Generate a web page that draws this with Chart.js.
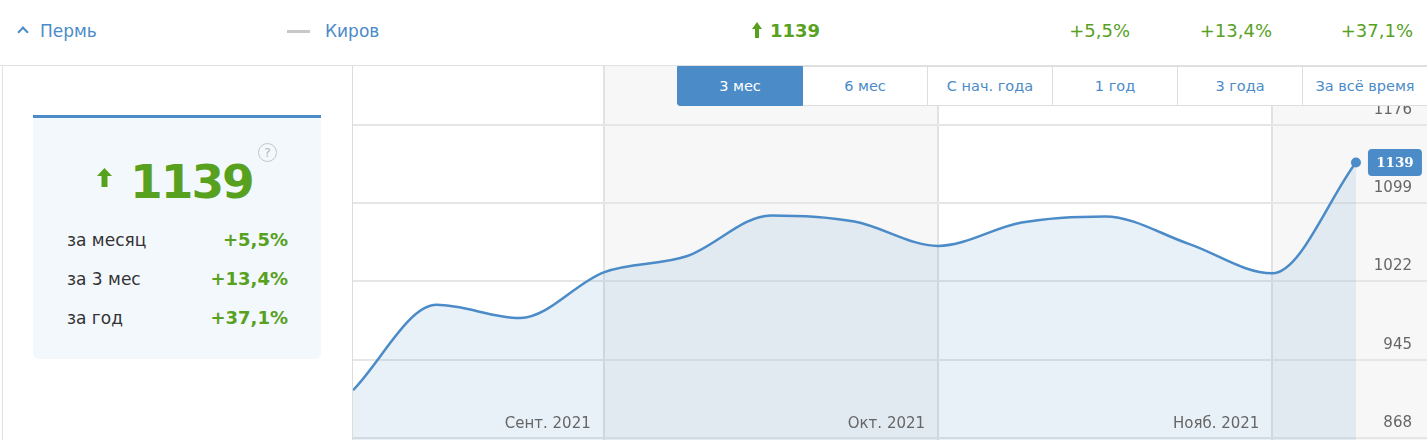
<!DOCTYPE html>
<html lang="ru">
<head>
<meta charset="utf-8">
<title>Пермь — индекс</title>
<script src="https://cdn.jsdelivr.net/npm/chart.js@4.4.1/dist/chart.umd.min.js"></script>
<style>
  body { margin: 0; width: 1427px; height: 440px; overflow: hidden; background: #fff;
         font-family: "DejaVu Sans", Verdana, sans-serif; position: relative; }
  .abs { position: absolute; white-space: nowrap; }
  #topbar { left: 0; top: 0; width: 1427px; height: 65px; border-bottom: 1px solid #e2e2e2; }
  .city { font-size: 17px; color: #4b8bc8; line-height: 20px; top: 21px; }
  .green { color: #58a11e; }
  .pct { font-size: 18px; line-height: 20px; top: 21px; text-align: right; }
  #caret { left: 19px; top: 28px; width: 6px; height: 6px; border-left: 2px solid #4b8bc8;
           border-top: 2px solid #4b8bc8; transform: rotate(45deg); }
  #dash { left: 287px; top: 30px; width: 23px; height: 3px; background: #c8c8c8; }
  #leftline { left: 2px; top: 66px; width: 1px; height: 374px; background: #e2e2e2; }
  #card { left: 33px; top: 115px; width: 288px; height: 241px; background: #f3f8fd;
          border-top: 3px solid #4b8bc8; border-radius: 0 0 6px 6px; }
  #bigval { left: 97px; top: 40px; font-size: 47px; font-weight: bold; letter-spacing: -2px; line-height: 47px; }
  #help { left: 225px; top: 25px; width: 17px; height: 17px; border: 1.5px solid #c6c6c6; border-radius: 50%;
          color: #b8b8b8; font-size: 13px; line-height: 17px; text-align: center; }
  .rowlab { left: 34px; font-size: 17px; color: #333; line-height: 20px; }
  .rowval { right: 33px; font-size: 18px; font-weight: bold; line-height: 20px; text-align: right; }
  #chartbox { left: 352px; top: 66px; width: 1074px; height: 374px; border-left: 1px solid #dcdcdc; }
  #buttons { left: 677px; top: 66px; height: 39px; display: flex; z-index: 5; }
  .btn { width: 124px; height: 38px; border: 1px solid #dedede; border-left: none; background: #fff;
         color: #4b8bc8; font-size: 14.5px; line-height: 38px; text-align: center; }
  .btn.active { background: #4b8bc8; color: #fff; border-color: #4b8bc8; border-radius: 0 0 0 3px; }
</style>
</head>
<body>
<div id="topbar" class="abs">
  <div id="caret" class="abs"></div>
  <div class="abs city" style="left:40px">Пермь</div>
  <div id="dash" class="abs"></div>
  <div class="abs city" style="left:325px">Киров</div>
  <svg class="abs" style="left:752px;top:22px" width="10" height="16" viewBox="0 0 10 16">
    <path d="M5 0 L10 7 L7 7 L7 16 L3 16 L3 7 L0 7 Z" fill="#58a11e"/>
  </svg>
  <div id="topValue" class="abs green" style="left:770px;top:21px;font-size:18px;font-weight:bold;line-height:20px"></div>
</div>
<div id="leftline" class="abs"></div>
<div id="card" class="abs">
  <svg class="abs" style="left:64px;top:50px" width="15" height="19" viewBox="0 0 15 19">
    <path d="M7.5 0 L15 8 L10.5 8 L10.5 19 L4.5 19 L4.5 8 L0 8 Z" fill="#58a11e"/>
  </svg>
  <div id="bigval" class="abs green"></div>
  <div id="help" class="abs">?</div>
</div>
<div id="chartbox" class="abs"><canvas id="chart" width="1074" height="374"></canvas></div>
<div id="buttons" class="abs"></div>

<script>
/* --------------------------
   ДАННЫЕ
--------------------------- */
const cityMain = 'Пермь';
const cityCompare = 'Киров';
const currentValue = 1139;

// недельные значения индекса за 3 месяца
const values = [915, 999, 986, 1031, 1047, 1087, 1081, 1057, 1080, 1086, 1059, 1030, 1139];

// начало месяцев (номер точки) и подписи
const monthTickIndex = [3, 7, 11];
const monthTickLabels = ['Сент. 2021', 'Окт. 2021', 'Нояб. 2021'];

// деления оси Y
const yTickValues = [868, 945, 1022, 1099, 1176];
const yMin = 866;
const yMax = 1234;
const xMax = 12.85;

// изменения
const changeLabels = ['за месяц', 'за 3 мес', 'за год'];
const changeValues = ['+5,5%', '+13,4%', '+37,1%'];

const periodButtons = ['3 мес', '6 мес', 'С нач. года', '1 год', '3 года', 'За всё время'];
const activePeriod = 0;

const BLUE = '#4b8bc8';

/* --------------------------
   ТЕКСТЫ
--------------------------- */
document.getElementById('topValue').textContent = currentValue;
document.getElementById('bigval').textContent = currentValue;

let pctRight = [297, 155, 14];
changeValues.forEach((v, i) => {
    let d = document.createElement('div');
    d.className = 'abs pct green';
    d.style.right = pctRight[i] + 'px';
    d.textContent = v;
    document.getElementById('topbar').appendChild(d);
});

changeLabels.forEach((lab, i) => {
    let top = 112 + i * 39;
    let l = document.createElement('div');
    l.className = 'abs rowlab';
    l.style.top = top + 'px';
    l.textContent = lab;
    let v = document.createElement('div');
    v.className = 'abs rowval green';
    v.style.top = top + 'px';
    v.textContent = changeValues[i];
    document.getElementById('card').appendChild(l);
    document.getElementById('card').appendChild(v);
});

periodButtons.forEach((b, i) => {
    let d = document.createElement('div');
    d.className = 'btn' + (i === activePeriod ? ' active' : '');
    if (i === 0) d.style.borderLeft = '1px solid ' + BLUE;
    d.textContent = b;
    document.getElementById('buttons').appendChild(d);
});

/* --------------------------
   ПЛАГИНЫ
--------------------------- */
// серые полосы через месяц
const monthBands = {
    id: 'monthBands',
    beforeDraw(chart) {
        const {ctx, chartArea, scales: {x}} = chart;
        ctx.save();
        ctx.fillStyle = '#f7f7f7';
        for (let i = 0; i < monthTickIndex.length; i += 2) {
            let x1 = x.getPixelForValue(monthTickIndex[i]);
            let x2 = i + 1 < monthTickIndex.length ? x.getPixelForValue(monthTickIndex[i + 1]) : chartArea.right;
            ctx.fillRect(x1, chartArea.top, x2 - x1, chartArea.bottom - chartArea.top);
        }
        ctx.restore();
    }
};

// подписи месяцев внизу, слева от линии
const monthLabels = {
    id: 'monthLabels',
    afterDraw(chart) {
        const {ctx, chartArea, scales: {x}} = chart;
        ctx.save();
        ctx.font = '15px "DejaVu Sans"';
        ctx.fillStyle = '#666';
        ctx.textAlign = 'right';
        ctx.textBaseline = 'middle';
        monthTickIndex.forEach((idx, i) => {
            ctx.fillText(monthTickLabels[i], x.getPixelForValue(idx) - 13, chartArea.bottom - 16);
        });
        ctx.restore();
    }
};

// плашка с последним значением
const lastValueTag = {
    id: 'lastValueTag',
    afterDatasetsDraw(chart) {
        const {ctx, scales: {x, y}} = chart;
        let last = values.length - 1;
        let px = x.getPixelForValue(last);
        let py = y.getPixelForValue(values[last]);
        ctx.save();
        ctx.fillStyle = BLUE;
        ctx.beginPath();
        ctx.roundRect(px + 12, py - 13.5, 54, 27, 4);
        ctx.fill();
        ctx.fillStyle = '#fff';
        ctx.font = 'bold 13.5px "DejaVu Serif"';
        ctx.textAlign = 'center';
        ctx.textBaseline = 'middle';
        ctx.fillText(String(values[last]), px + 39, py + 1);
        ctx.restore();
    }
};

/* --------------------------
   ГРАФИК
--------------------------- */
let ctx = document.getElementById('chart').getContext('2d');

let chart = new Chart(ctx, {
    type: 'line',
    data: {
        datasets: [{
            label: cityMain,
            data: values.map((v, i) => ({x: i, y: v})),
            borderColor: BLUE,
            backgroundColor: 'rgba(75,139,200,0.13)',
            borderWidth: 2.5,
            fill: 'start',
            cubicInterpolationMode: 'monotone',
            pointRadius: c => c.dataIndex === values.length - 1 ? 5 : 0,
            pointBackgroundColor: BLUE,
            pointBorderWidth: 0
        }]
    },
    options: {
        responsive: false,
        animation: false,
        layout: { padding: 0, autoPadding: false },
        plugins: { legend: { display: false }, tooltip: { enabled: false } },
        scales: {
            x: {
                type: 'linear',
                min: 0,
                max: xMax,
                afterBuildTicks: s => { s.ticks = monthTickIndex.map(v => ({value: v})); },
                afterFit: s => { s.height = 0; s.paddingLeft = 0; s.paddingRight = 0; },
                ticks: { display: false },
                grid: { color: '#e2e2e2', lineWidth: 2, drawTicks: false },
                border: { display: false }
            },
            y: {
                position: 'right',
                min: yMin,
                max: yMax,
                afterBuildTicks: s => { s.ticks = yTickValues.map(v => ({value: v})); },
                afterFit: s => { s.width = 0; s.paddingTop = 0; s.paddingBottom = 0; },
                ticks: {
                    mirror: true,
                    padding: -15,
                    labelOffset: -15,
                    color: '#666',
                    font: { family: 'DejaVu Sans', size: 15 },
                    callback: v => String(v)
                },
                grid: { color: '#e6e6e6', lineWidth: 2, drawTicks: false },
                border: { display: false }
            }
        }
    },
    plugins: [monthBands, monthLabels, lastValueTag]
});
</script>
</body>
</html>
